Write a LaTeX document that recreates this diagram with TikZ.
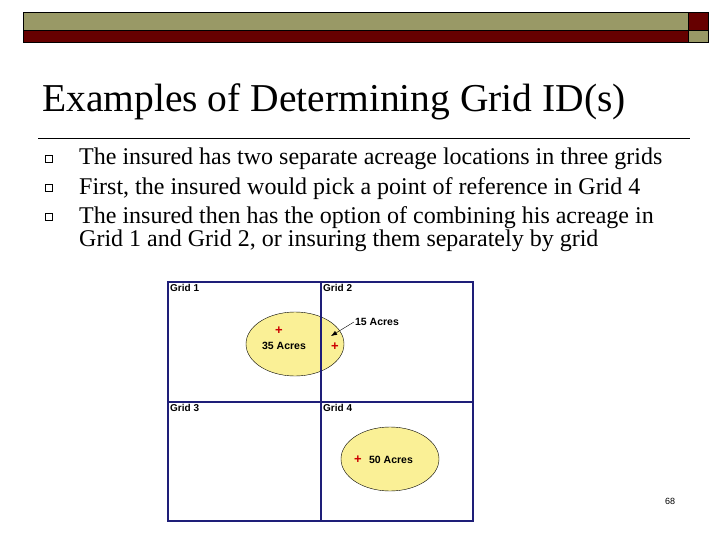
\documentclass[tikz,border=0pt]{standalone}
\usepackage{fontspec}
\setmainfont{Liberation Serif}
\newfontfamily\arial{Liberation Sans}
\usetikzlibrary{arrows.meta}
\definecolor{olive}{RGB}{153,153,102}
\definecolor{maroon}{RGB}{102,0,0}
\definecolor{gridblue}{RGB}{30,30,120}
\definecolor{lyellow}{RGB}{250,240,150}
\begin{document}
\begin{tikzpicture}[x=1pt,y=-1pt,
  gl/.style={anchor=north west,font=\arial\bfseries\fontsize{10}{11}\selectfont,inner sep=1pt},
  ac/.style={font=\arial\bfseries\fontsize{10.5}{12}\selectfont,inner sep=1pt},
  plus/.style={text=red!80!black,font=\arial\bfseries\fontsize{13}{13}\selectfont,inner sep=0pt},
  bul/.style={anchor=north west,font=\fontsize{24}{23}\selectfont,inner sep=0pt,align=left}]
\useasboundingbox[fill=white] (0,0) rectangle (720,540);
% header
\draw[fill=olive] (23,12) rectangle (688,30);
\draw[fill=maroon] (23,30) rectangle (688,42);
\draw[fill=maroon] (688,12) rectangle (708,30);
\draw[fill=olive] (688,30) rectangle (708,42);
\node[anchor=west,inner sep=0pt,font=\fontsize{39.5}{40}\selectfont] (title) at (42,102) {Examples of Determining Grid ID(s)};
\draw[line width=0.6pt] (38,138) -- (690,138);
\foreach \y/\t [count=\i] in {159/{The insured has two separate acreage locations in three grids},188/{First, the insured would pick a point of reference in Grid 4},217/{The insured then has the option of combining his acreage in\\Grid 1 and Grid 2, or insuring them separately by grid}}{
  \draw (45,\y-4) rectangle (52,\y+3);
  \node[bul] (b\i) at (79,\y-11) {\t};
}
% ellipses
\draw[fill=lyellow] (295,344) ellipse[x radius=49,y radius=32];
\draw[fill=lyellow] (390,459) ellipse[x radius=49,y radius=32];
\draw[dashed] (320,322) -- (320,368);
% grid
\draw[gridblue,line width=1.2pt] (168,282) rectangle (473,521) (321,282) -- (321,521) (168,402) -- (473,402);
\node[gl] (g1) at (169,283) {Grid 1};
\node[gl] (g2) at (322,283) {Grid 2};
\node[gl] (g3) at (169,403) {Grid 3};
\node[gl] (g4) at (322,403) {Grid 4};
\node[plus] (p1) at (279,331) {+};
\node[plus] (p2) at (335,347) {+};
\node[plus] (p3) at (358,460) {+};
\node[ac] (a35) at (284,346) {35 Acres};
\node[ac] (a15) at (377,322) {15 Acres};
\node[ac] (a50) at (391,460) {50 Acres};
\coordinate (tip) at (331,336);
\draw[-{Latex[length=6pt]}] (a15.west) -- (tip);
\node[font=\arial\fontsize{9}{10}\selectfont] (pg) at (670,501) {68};
\end{tikzpicture}
\end{document}
